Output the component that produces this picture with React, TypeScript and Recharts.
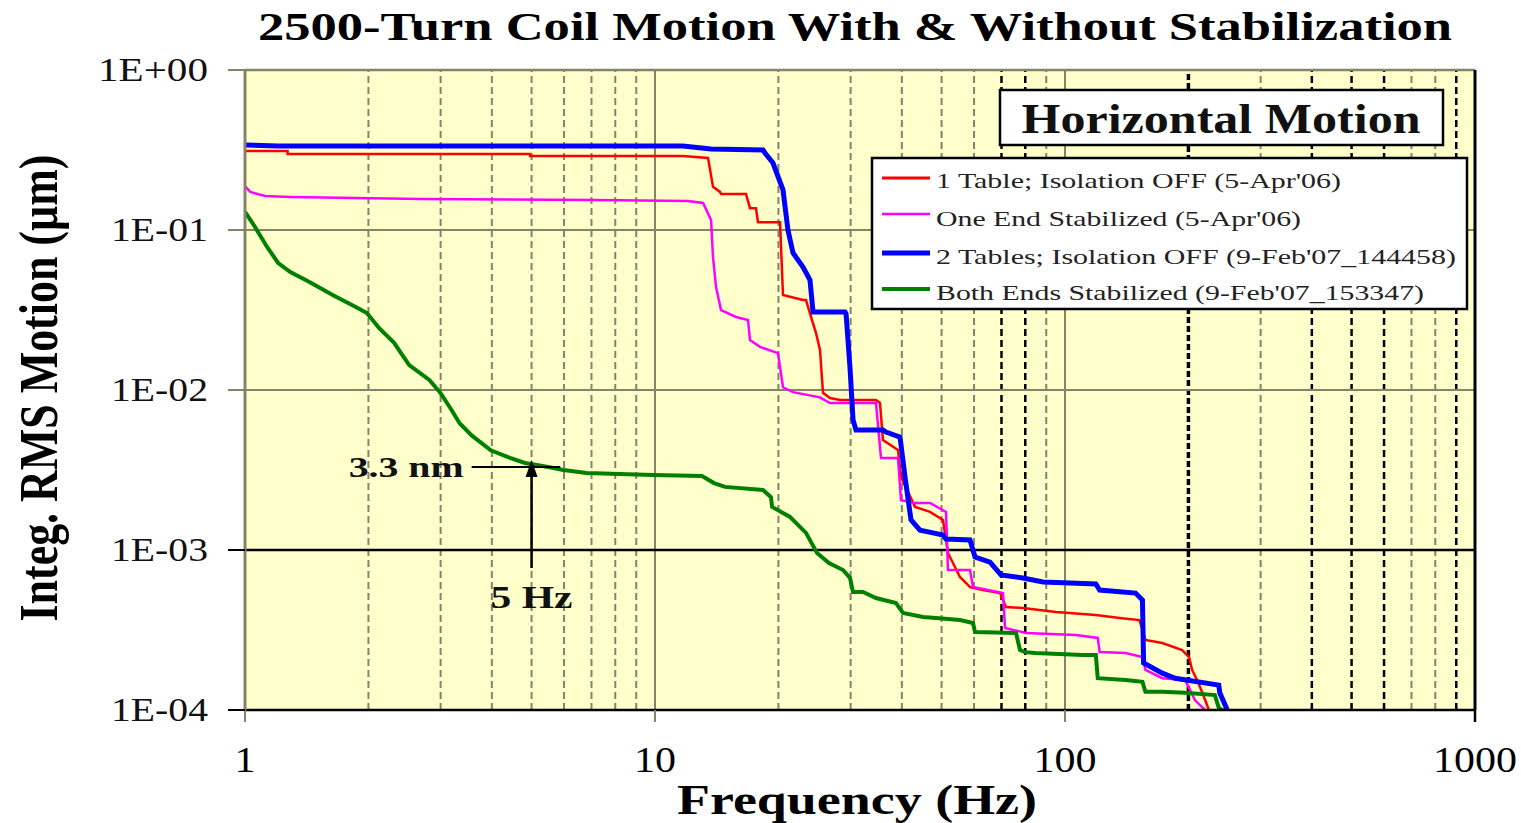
import React from 'react';
import {
  LineChart,
  Line,
  XAxis,
  YAxis,
  ReferenceLine,
  ReferenceArea,
  ReferenceDot,
  Legend,
  Label,
} from 'recharts';

const SERIF = "'Liberation Serif', 'Times New Roman', Tinos, serif";

// ---------- axis ticks ----------
const xTicks = [1, 10, 100, 1000];
const xTickLabels = ['1', '10', '100', '1000'];
const yTicks = [1, 0.1, 0.01, 0.001, 0.0001];
const yTickLabels = ['1E+00', '1E-01', '1E-02', '1E-03', '1E-04'];

// ---------- grid ----------
const minorFreqs = [2, 3, 4, 5, 6, 7, 8, 9, 20, 30, 40, 50, 60, 70, 80, 90, 200, 300, 400, 500, 600, 700, 800, 900];
const darkMinorFreqs = [70, 80, 200, 400, 500, 600, 900];
const heavyMinorFreqs = [200];
const majorFreqs = [10, 100];
const grayLevels = [0.1, 0.01];
const darkLevels = [0.001];

// ---------- series ----------
const seriesNames = [
  '1 Table; Isolation OFF (5-Apr\'06)',
  'One End Stabilized (5-Apr\'06)',
  '2 Tables; Isolation OFF (9-Feb\'07_144458)',
  'Both Ends Stabilized (9-Feb\'07_153347)',
];

const redFreq = [1, 1.27, 1.27, 4.96, 4.96, 11.7, 13.47, 13.85, 14.41, 14.49, 16.67, 17.05, 17.63, 17.83, 20.18, 20.52, 22.96, 23.35, 24.02, 24.7, 25.26, 25.69, 26.72, 28.27, 34.59, 35.38, 35.98, 39.14, 39.81, 43.07, 46.85, 50.4, 51.83, 55.43, 58.66, 63.1, 69.42, 71.8, 78.98, 95.06, 118.9, 135.9, 151.9, 157.1, 172.7, 193.1, 200.7, 204.2, 209.9, 215.8, 224.4, 228];
const redVal = [0.312, 0.312, 0.2985, 0.2985, 0.29, 0.29, 0.282, 0.186, 0.173, 0.168, 0.168, 0.137, 0.137, 0.112, 0.112, 0.0392, 0.0365, 0.0365, 0.0286, 0.0227, 0.0178, 0.0096, 0.0089, 0.00866, 0.00866, 0.00829, 0.00487, 0.00422, 0.00286, 0.00186, 0.00173, 0.00154, 0.000958, 0.000678, 0.000587, 0.000562, 0.000538, 0.00044, 0.000434, 0.00041, 0.000392, 0.000376, 0.000365, 0.000274, 0.000262, 0.000237, 0.000214, 0.000178, 0.000154, 0.00013, 0.0001, 0.00009];

const magFreq = [1, 1.03, 1.12, 1.29, 2.69, 7.04, 12.03, 13.1, 13.7, 13.85, 14.09, 14.49, 15.76, 16.86, 17.05, 18.03, 19.95, 20.52, 21.71, 25.26, 26.72, 34.59, 35.58, 39.14, 39.81, 43.07, 46.85, 51.26, 51.83, 58.66, 59.65, 70.6, 71.4, 80.33, 106.3, 120.2, 121.5, 140.5, 154.5, 157.1, 172.7, 196.3, 207.6, 219.5, 222];
const magVal = [0.188, 0.173, 0.163, 0.161, 0.156, 0.154, 0.152, 0.1475, 0.1155, 0.0678, 0.044, 0.0316, 0.0286, 0.0274, 0.0205, 0.0186, 0.017, 0.0104, 0.0097, 0.009, 0.00829, 0.00829, 0.00376, 0.00376, 0.00205, 0.00197, 0.00197, 0.00173, 0.00075, 0.00075, 0.000587, 0.000538, 0.000326, 0.000303, 0.000294, 0.000282, 0.00023, 0.000227, 0.000214, 0.000178, 0.000158, 0.000154, 0.000115, 0.0001, 0.00009];

const blueFreq = [1, 1.2, 11.7, 13.7, 18.34, 18.55, 19.4, 20.52, 21.1, 21.71, 22.96, 23.88, 24.29, 29.08, 29.24, 29.9, 30.41, 30.92, 35.98, 36.59, 39.59, 40.72, 42.11, 44.3, 47.64, 50.4, 51.26, 58.66, 60.33, 65.63, 69.81, 78.98, 88.4, 118.9, 121.5, 148.6, 154.5, 155.5, 172.7, 185.7, 237.2, 238.5, 251];
const blueVal = [0.34, 0.335, 0.335, 0.321, 0.316, 0.303, 0.262, 0.178, 0.1, 0.0718, 0.0587, 0.0487, 0.0307, 0.0307, 0.03, 0.0137, 0.0065, 0.00562, 0.00562, 0.00546, 0.00508, 0.00286, 0.00154, 0.00133, 0.00128, 0.00124, 0.00117, 0.001155, 0.000904, 0.000841, 0.000698, 0.000668, 0.000631, 0.000613, 0.000562, 0.000538, 0.000487, 0.000197, 0.00017, 0.000158, 0.000143, 0.000128, 0.000095];

const greenFreq = [1, 1.058, 1.132, 1.205, 1.29, 1.436, 1.636, 1.863, 1.983, 2.122, 2.31, 2.515, 2.816, 2.997, 3.19, 3.337, 3.571, 3.977, 4.429, 4.82, 5.49, 5.975, 6.806, 9.89, 13.02, 13.93, 14.82, 18.34, 19.18, 19.3, 21.34, 23.35, 24.84, 26.57, 28.75, 29.9, 30.41, 32.16, 34.59, 38.7, 40.26, 45.05, 48.46, 55.43, 59.65, 60.33, 75.95, 77.67, 79.87, 84.52, 110.6, 118.9, 120.2, 140.5, 154.5, 157.1, 172.7, 196.3, 232, 237.2, 251];
const greenVal = [0.1296, 0.1044, 0.0783, 0.0622, 0.0546, 0.0473, 0.0392, 0.033, 0.0303, 0.0244, 0.0197, 0.0143, 0.01155, 0.0096, 0.0075, 0.0062, 0.0052, 0.0042, 0.00376, 0.0035, 0.0033, 0.00316, 0.00303, 0.00294, 0.0029, 0.00262, 0.00248, 0.00237, 0.00214, 0.00186, 0.00161, 0.00128, 0.000958, 0.000829, 0.00075, 0.000668, 0.000546, 0.000546, 0.000501, 0.000466, 0.000404, 0.000381, 0.000376, 0.000365, 0.00035, 0.000307, 0.000303, 0.000237, 0.00023, 0.000227, 0.000221, 0.000221, 0.000158, 0.000154, 0.00015, 0.00013, 0.00013, 0.000128, 0.000124, 0.000103, 0.000095];

// ---------- annotation ----------
const markFreq = 5;
const markVal = 0.0033;
const markLabel = '3.3 nm';
const markFreqLabel = '5 Hz';
const markHLine = [3.571, 5.875];
const markArrowBottom = 0.000772;

const toPoints = (fs: number[], vs: number[]) => fs.map((f, i) => ({ f, v: vs[i] }));

const redData = toPoints(redFreq, redVal);
const magData = toPoints(magFreq, magVal);
const blueData = toPoints(blueFreq, blueVal);
const greenData = toPoints(greenFreq, greenVal);

const COLORS = ['#FF0000', '#FF00FF', '#0000FF', '#008000'];
const WIDTHS = [2.5, 2.5, 5, 4];
const LEGEND_WIDTHS = [3, 2.5, 5, 4];
const LEGEND_TEXT_LEN = [405, 365, 520, 488];
const GRAY = '#84846A';
const BG = '#FFFFCC';

const idxOf = (arr: number[], v: number) =>
  arr.findIndex((t) => Math.abs(Math.log10(t) - Math.log10(v)) < 1e-6);

const XTick = (props: any) => {
  const { x, y, payload } = props;
  const i = idxOf(xTicks, payload.value);
  const dark = payload.value >= 1000;
  const label = xTickLabels[i];
  return (
    <g>
      <line x1={x} x2={x} y1={y} y2={y + 12} stroke={dark ? '#000' : GRAY} strokeWidth={dark ? 2.5 : 2} />
      <text
        x={x}
        y={y + 62}
        textAnchor="middle"
        fontFamily={SERIF}
        fontSize={36}
        fill="#000"
        textLength={label.length * 21}
        lengthAdjust="spacingAndGlyphs"
      >
        {label}
      </text>
    </g>
  );
};

const YTick = (props: any) => {
  const { x, y, payload } = props;
  const i = idxOf(yTicks, payload.value);
  const dark = payload.value <= 0.001;
  const label = yTickLabels[i];
  return (
    <g>
      <line x1={x - 17} x2={x} y1={y} y2={y} stroke={dark ? '#000' : GRAY} strokeWidth={2} />
      <text
        x={x - 37}
        y={y + 11}
        textAnchor="end"
        fontFamily={SERIF}
        fontSize={33}
        fill="#111"
        textLength={i === 0 ? 110 : 97}
        lengthAdjust="spacingAndGlyphs"
      >
        {label}
      </text>
    </g>
  );
};

const YTitle = (props: any) => {
  const vb = props.viewBox || { x: 0, y: 70, width: 245, height: 640 };
  const cx = vb.x + 57;
  const cy = vb.y + vb.height / 2 - 2;
  return (
    <text
      x={cx}
      y={cy}
      transform={`rotate(-90 ${cx} ${cy})`}
      textAnchor="middle"
      fontFamily={SERIF}
      fontWeight="bold"
      fontSize={54}
      fill="#000"
      textLength={467}
      lengthAdjust="spacingAndGlyphs"
    >
      Integ. RMS Motion (µm)
    </text>
  );
};

const XTitle = (props: any) => {
  const vb = props.viewBox || { x: 245, y: 710, width: 1230, height: 113 };
  const cx = vb.x + vb.width / 2 - 3;
  return (
    <text
      x={cx}
      y={vb.y + 104}
      textAnchor="middle"
      fontFamily={SERIF}
      fontWeight="bold"
      fontSize={42}
      fill="#000"
      textLength={360}
      lengthAdjust="spacingAndGlyphs"
    >
      Frequency (Hz)
    </text>
  );
};

const LegendBox = () => (
  <svg width={600} height={225} style={{ display: 'block', overflow: 'visible' }}>
    {/* Horizontal Motion header box */}
    <rect x={129} y={2} width={443} height={55} fill="#fff" stroke="#000" strokeWidth={2.5} />
    <text
      x={350}
      y={45}
      textAnchor="middle"
      fontFamily={SERIF}
      fontWeight="bold"
      fontSize={42}
      fill="#111"
      textLength={399}
      lengthAdjust="spacingAndGlyphs"
    >
      Horizontal Motion
    </text>
    {/* series legend */}
    <rect x={1} y={70} width={595} height={151} fill="#fff" stroke="#000" strokeWidth={2.5} />
    {seriesNames.map((name, i) => {
      const ly = [90, 126, 165, 201][i];
      const ty = [100, 138, 176, 212][i];
      return (
        <g key={name}>
          <line x1={11} x2={59} y1={ly} y2={ly} stroke={COLORS[i]} strokeWidth={LEGEND_WIDTHS[i]} />
          <text
            x={65}
            y={ty}
            fontFamily={SERIF}
            fontSize={21}
            fill="#222"
            textLength={LEGEND_TEXT_LEN[i]}
            lengthAdjust="spacingAndGlyphs"
          >
            {name}
          </text>
        </g>
      );
    })}
  </svg>
);

const ArrowHead = (props: any) => {
  const { cx, cy } = props;
  if (cx == null || cy == null) return null;
  return <polygon points={`${cx},${cy - 7} ${cx - 6},${cy + 10} ${cx + 6},${cy + 10}`} fill="#000" />;
};

const ValueText = (props: any) => {
  const { cx, cy } = props;
  if (cx == null || cy == null) return null;
  return (
    <text
      x={cx - 8}
      y={cy + 10}
      textAnchor="end"
      fontFamily={SERIF}
      fontWeight="bold"
      fontSize={30}
      fill="#111"
      textLength={115}
      lengthAdjust="spacingAndGlyphs"
    >
      {markLabel}
    </text>
  );
};

const FreqText = (props: any) => {
  const { cx, cy } = props;
  if (cx == null || cy == null) return null;
  return (
    <text
      x={cx}
      y={cy + 40}
      textAnchor="middle"
      fontFamily={SERIF}
      fontWeight="bold"
      fontSize={32}
      fill="#111"
      textLength={82}
      lengthAdjust="spacingAndGlyphs"
    >
      {markFreqLabel}
    </text>
  );
};

export default function App() {
  return (
    <div style={{ position: 'absolute', left: 0, top: 0, width: 1521, height: 823, background: '#fff' }}>
      <svg
        width={1521}
        height={60}
        style={{ position: 'absolute', left: 0, top: 0, pointerEvents: 'none' }}
      >
        <text
          x={855}
          y={40}
          textAnchor="middle"
          fontFamily={SERIF}
          fontWeight="bold"
          fontSize={40}
          fill="#000"
          textLength={1194}
          lengthAdjust="spacingAndGlyphs"
        >
          2500-Turn Coil Motion With &amp; Without Stabilization
        </text>
      </svg>
      <LineChart width={1521} height={823} margin={{ top: 70, right: 46, bottom: 0, left: 0 }}>
        <XAxis
          dataKey="f"
          type="number"
          scale="log"
          domain={[1, 1000]}
          allowDataOverflow
          ticks={xTicks}
          interval={0}
          height={113}
          tickSize={0}
          tickMargin={0}
          tickLine={false}
          axisLine={{ stroke: '#000', strokeWidth: 2.5 }}
          tick={<XTick />}
        >
          <Label content={<XTitle />} />
        </XAxis>
        <YAxis
          dataKey="v"
          type="number"
          scale="log"
          domain={[0.0001, 1]}
          allowDataOverflow
          ticks={yTicks}
          interval={0}
          width={245}
          tickSize={0}
          tickMargin={0}
          tickLine={false}
          axisLine={{ stroke: GRAY, strokeWidth: 3 }}
          tick={<YTick />}
        >
          <Label content={<YTitle />} />
        </YAxis>

        <ReferenceArea x1={1} x2={1000} y1={0.0001} y2={1} fill={BG} fillOpacity={1} stroke="none" />

        {minorFreqs.map((f) => {
          const dark = darkMinorFreqs.includes(f);
          const heavy = heavyMinorFreqs.includes(f);
          return (
            <ReferenceLine
              key={`m${f}`}
              x={f}
              stroke={dark ? '#000' : GRAY}
              strokeWidth={heavy ? 3.5 : dark ? 2.5 : 2}
              strokeDasharray={heavy ? '6 3' : '7 4'}
            />
          );
        })}
        {majorFreqs.map((f) => (
          <ReferenceLine key={`M${f}`} x={f} stroke={GRAY} strokeWidth={2} />
        ))}
        {grayLevels.map((v) => (
          <ReferenceLine key={`g${v}`} y={v} stroke={GRAY} strokeWidth={2} />
        ))}
        {darkLevels.map((v) => (
          <ReferenceLine key={`d${v}`} y={v} stroke="#000" strokeWidth={2.5} />
        ))}
        <ReferenceLine y={1} stroke={GRAY} strokeWidth={2.5} />
        <ReferenceLine x={1000} stroke="#000" strokeWidth={3} />

        <Line data={redData} dataKey="v" name={seriesNames[0]} type="linear" stroke={COLORS[0]} strokeWidth={WIDTHS[0]} dot={false} activeDot={false} isAnimationActive={false} />
        <Line data={magData} dataKey="v" name={seriesNames[1]} type="linear" stroke={COLORS[1]} strokeWidth={WIDTHS[1]} dot={false} activeDot={false} isAnimationActive={false} />
        <Line data={blueData} dataKey="v" name={seriesNames[2]} type="linear" stroke={COLORS[2]} strokeWidth={WIDTHS[2]} dot={false} activeDot={false} isAnimationActive={false} />
        <Line data={greenData} dataKey="v" name={seriesNames[3]} type="linear" stroke={COLORS[3]} strokeWidth={WIDTHS[3]} dot={false} activeDot={false} isAnimationActive={false} />

        <ReferenceLine
          segment={[
            { x: markHLine[0], y: markVal },
            { x: markHLine[1], y: markVal },
          ]}
          stroke="#000"
          strokeWidth={2}
        />
        <ReferenceLine
          segment={[
            { x: markFreq, y: markArrowBottom },
            { x: markFreq, y: markVal },
          ]}
          stroke="#000"
          strokeWidth={2.5}
        />
        <ReferenceDot x={markFreq} y={markVal} r={0} shape={<ArrowHead />} />
        <ReferenceDot x={markHLine[0]} y={markVal} r={0} shape={<ValueText />} />
        <ReferenceDot x={markFreq} y={markArrowBottom} r={0} shape={<FreqText />} />

        <Legend
          layout="vertical"
          align="center"
          verticalAlign="middle"
          content={<LegendBox />}
          wrapperStyle={{ position: 'absolute', left: 871, top: 88, width: 600, height: 225, margin: 0, padding: 0 }}
        />
      </LineChart>
    </div>
  );
}
